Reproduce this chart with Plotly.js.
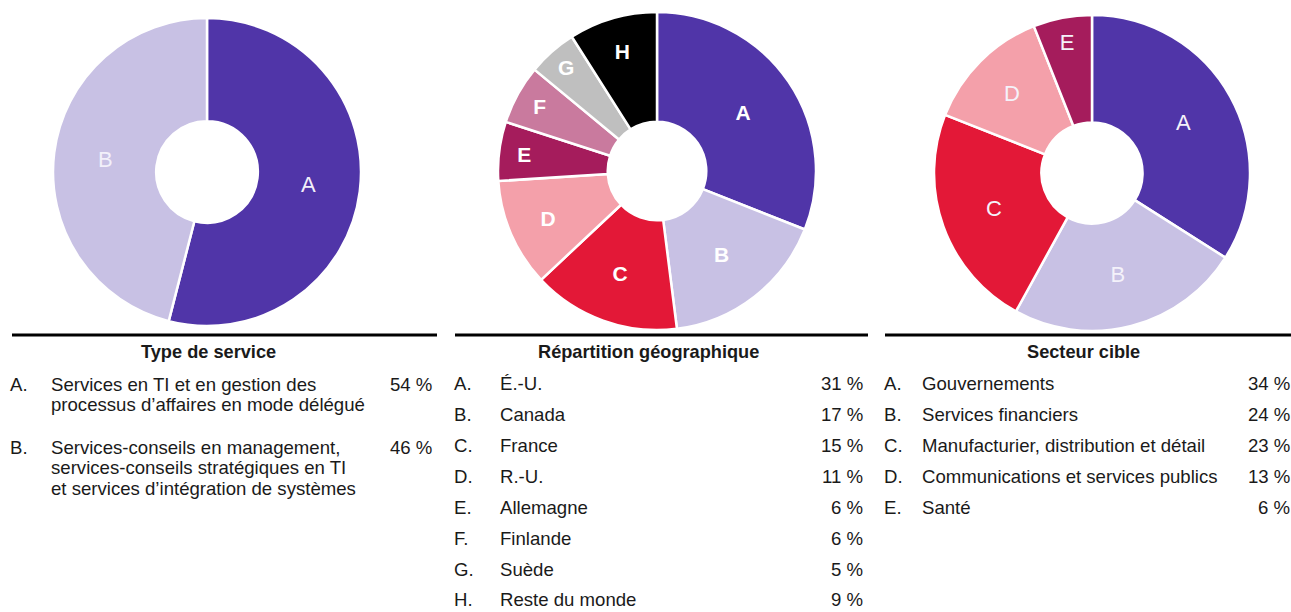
<!DOCTYPE html>
<html>
<head>
<meta charset="utf-8">
<script src="https://cdn.plot.ly/plotly-3.0.1.min.js"></script>
<style>
html,body{margin:0;padding:0;background:#fff;}
#chart{width:1291px;height:612px;}
</style>
</head>
<body>
<div id="chart"></div>
<script>
// ---------- Data ----------
const serviceTitle = "Type de service";
const serviceLetters = ["A", "B"];
const serviceLabels = [
  ["Services en TI et en gestion des", "processus d’affaires en mode délégué"],
  ["Services-conseils en management,", "services-conseils stratégiques en TI", "et services d’intégration de systèmes"]
];
const serviceValues = [54, 46];

const geoTitle = "Répartition géographique";
const geoLetters = ["A", "B", "C", "D", "E", "F", "G", "H"];
const geoLabels = ["É.-U.", "Canada", "France", "R.-U.", "Allemagne", "Finlande", "Suède", "Reste du monde"];
const geoValues = [31, 17, 15, 11, 6, 6, 5, 9];

const sectorTitle = "Secteur cible";
const sectorLetters = ["A", "B", "C", "D", "E"];
const sectorLabels = ["Gouvernements", "Services financiers", "Manufacturier, distribution et détail", "Communications et services publics", "Santé"];
const sectorValues = [34, 24, 23, 13, 6];

// ---------- Styles ----------
const W = 1291, H = 612;
const px = x => x / W;
const py = y => 1 - y / H;
const FONT = "Liberation Sans, Arial, Helvetica, sans-serif";
const TXT = "#1a1a1a";
const TSIZE = 18.6;

const serviceColors = ["#5035A8", "#C8C1E4"];
const geoColors = ["#5035A8", "#C8C1E4", "#E31837", "#F4A0AA", "#A51C5C", "#C97A9E", "#BFBFBF", "#000000"];
const sectorColors = ["#5035A8", "#C8C1E4", "#E31837", "#F4A0AA", "#A51C5C"];

function pie(letters, values, colors, box, hole, tfont) {
  return {
    type: "pie",
    labels: letters,
    values: values,
    sort: false,
    direction: "clockwise",
    rotation: 0,
    hole: hole,
    textinfo: "label",
    textposition: "inside",
    insidetextorientation: "horizontal",
    textfont: tfont,
    marker: { colors: colors, line: { color: "#ffffff", width: 2.5 } },
    domain: { x: [px(box[0]), px(box[2])], y: [py(box[3]), py(box[1])] },
    showlegend: false,
    hoverinfo: "label+percent"
  };
}

const traces = [
  pie(serviceLetters, serviceValues, serviceColors, [53, 18, 361, 326], 0.33,
      { family: FONT, size: 22, color: "#F2F0FA" }),
  pie(geoLetters, geoValues, geoColors, [498, 12, 816, 330], 0.31,
      { family: FONT, size: 21, color: "#ffffff", weight: "bold" }),
  pie(sectorLetters, sectorValues, sectorColors, [934, 15, 1250, 331], 0.32,
      { family: FONT, size: 22, color: "#F4F2FA" })
];

const shapes = [];
const annotations = [];

function block(cfg) {
  shapes.push({
    type: "line", xref: "paper", yref: "paper",
    x0: px(cfg.lineX[0]), x1: px(cfg.lineX[1]), y0: py(335), y1: py(335),
    line: { color: "#000", width: 3 }
  });
  annotations.push({
    xref: "paper", yref: "paper", x: px(cfg.titleX), y: py(352),
    xanchor: "center", yanchor: "middle", showarrow: false,
    text: "<b>" + cfg.title + "</b>",
    font: { family: FONT, size: 18.2, color: TXT }
  });
  cfg.letters.forEach((L, i) => {
    const y = cfg.rowsY[i];
    const common = { xref: "paper", yref: "paper", showarrow: false, xanchor: "left", yanchor: "middle",
                     borderpad: 0, font: { family: FONT, size: TSIZE, color: TXT } };
    annotations.push(Object.assign({}, common, { x: px(cfg.letterX), y: py(y), text: L + "." }));
    const lines = Array.isArray(cfg.labels[i]) ? cfg.labels[i] : [cfg.labels[i]];
    lines.forEach((t, k) => {
      annotations.push(Object.assign({}, common, { x: px(cfg.textX), y: py(y + k * 20.8), text: t }));
    });
    annotations.push(Object.assign({}, common, { x: px(cfg.valueX), y: py(y), xanchor: "right", text: cfg.values[i] + " %" }));
  });
}

block({ title: serviceTitle, titleX: 209, lineX: [12, 437], letters: serviceLetters, labels: serviceLabels, values: serviceValues,
        letterX: 9, textX: 50, valueX: 433, rowsY: [384, 447] });
block({ title: geoTitle, titleX: 648, lineX: [455, 868], letters: geoLetters, labels: geoLabels, values: geoValues,
        letterX: 453, textX: 499, valueX: 864, rowsY: [383, 414, 445, 476, 507, 538, 569, 599] });
block({ title: sectorTitle, titleX: 1083, lineX: [885, 1291], letters: sectorLetters, labels: sectorLabels, values: sectorValues,
        letterX: 883, textX: 921, valueX: 1291, rowsY: [383, 414, 445, 476, 507] });

const layout = {
  width: W, height: H,
  margin: { l: 0, r: 0, t: 0, b: 0 },
  paper_bgcolor: "#ffffff",
  plot_bgcolor: "#ffffff",
  showlegend: false,
  shapes: shapes,
  annotations: annotations,
  font: { family: FONT }
};

Plotly.newPlot("chart", traces, layout, { displayModeBar: false, staticPlot: true });
</script>
</body>
</html>
